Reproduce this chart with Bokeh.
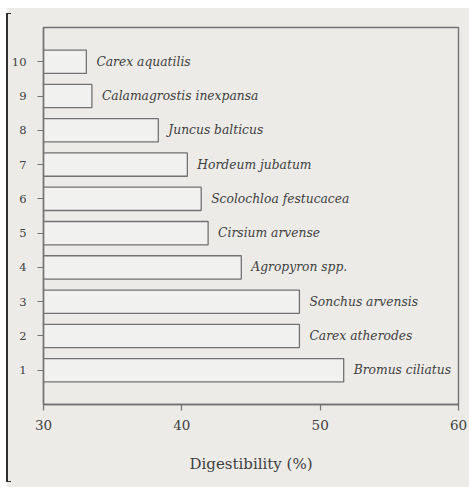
from bokeh.plotting import figure
from bokeh.models import ColumnDataSource, FixedTicker, InlineStyleSheet
from bokeh.core.properties import value
from bokeh.embed import file_html
from bokeh.resources import INLINE

# Forage species, ranked 1 (bottom) to 10 (top)
ranks = [1, 2, 3, 4, 5, 6, 7, 8, 9, 10]
species = [
    "Bromus ciliatus",
    "Carex atherodes",
    "Sonchus arvensis",
    "Agropyron spp.",
    "Cirsium arvense",
    "Scolochloa festucacea",
    "Hordeum jubatum",
    "Juncus balticus",
    "Calamagrostis inexpansa",
    "Carex aquatilis",
]
digestibility = [51.7, 48.5, 48.5, 44.3, 41.9, 41.4, 40.4, 38.3, 33.5, 33.1]
x_ticks = [30, 40, 50, 60]

PAPER = "#ecebe8"
INK = "#404040"
LINE = "#727272"
SERIF = "DejaVu Serif"

source = ColumnDataSource(dict(rank=ranks, name=species, val=digestibility,
                               base=[30] * len(ranks)))

p = figure(width=469, height=487, x_range=(30, 60), y_range=(0, 11),
           output_backend="svg", toolbar_location=None,
           min_border_left=43, min_border_right=11,
           min_border_top=27, min_border_bottom=83)

p.background_fill_color = PAPER
p.border_fill_color = None
p.outline_line_color = LINE
p.outline_line_width = 1.4
p.grid.visible = False

# paper sheet behind the canvas, with a dark bracket rule down its left side
p.stylesheets = [InlineStyleSheet(css=f"""
:host {{
  background: linear-gradient({PAPER}, {PAPER}) 7px 8px / 462px 479px no-repeat, white;
}}
:host::after {{
  content: "";
  position: absolute;
  left: 6px;
  top: 13px;
  width: 3px;
  height: 467px;
  border-left: 2px solid #2e2e2e;
  border-top: 1px solid #2e2e2e;
  border-bottom: 1px solid #2e2e2e;
  pointer-events: none;
}}
""")]

p.hbar(y="rank", left="base", right="val", height=0.68, source=source,
       fill_color="#f1f1ef", line_color=LINE, line_width=1.3)

p.text(x="val", y="rank", text="name", source=source,
       x_offset=10, text_baseline="middle", text_align="left",
       text_font=value(SERIF), text_font_style="italic",
       text_font_size="12.3px", text_color=INK)

for ax in (p.xaxis[0], p.yaxis[0]):
    ax.axis_line_color = LINE
    ax.axis_line_width = 1.4
    ax.major_tick_line_color = LINE
    ax.major_tick_line_width = 1.2
    ax.major_tick_in = 0
    ax.major_tick_out = 6
    ax.minor_tick_line_color = None
    ax.major_label_text_font = SERIF
    ax.major_label_text_color = INK

p.xaxis.ticker = FixedTicker(ticks=x_ticks)
p.xaxis.major_label_text_font_size = "13.5px"
p.xaxis.major_label_standoff = 9
p.xaxis.axis_label = "Digestibility (%)"
p.xaxis.axis_label_text_font = SERIF
p.xaxis.axis_label_text_font_style = "normal"
p.xaxis.axis_label_text_font_size = "15px"
p.xaxis.axis_label_text_color = INK
p.xaxis.axis_label_standoff = 22

p.yaxis.ticker = FixedTicker(ticks=ranks)
p.yaxis.major_label_text_font_size = "11.5px"
p.yaxis.major_label_standoff = 11

open("out.html", "w").write(file_html(p, INLINE))
